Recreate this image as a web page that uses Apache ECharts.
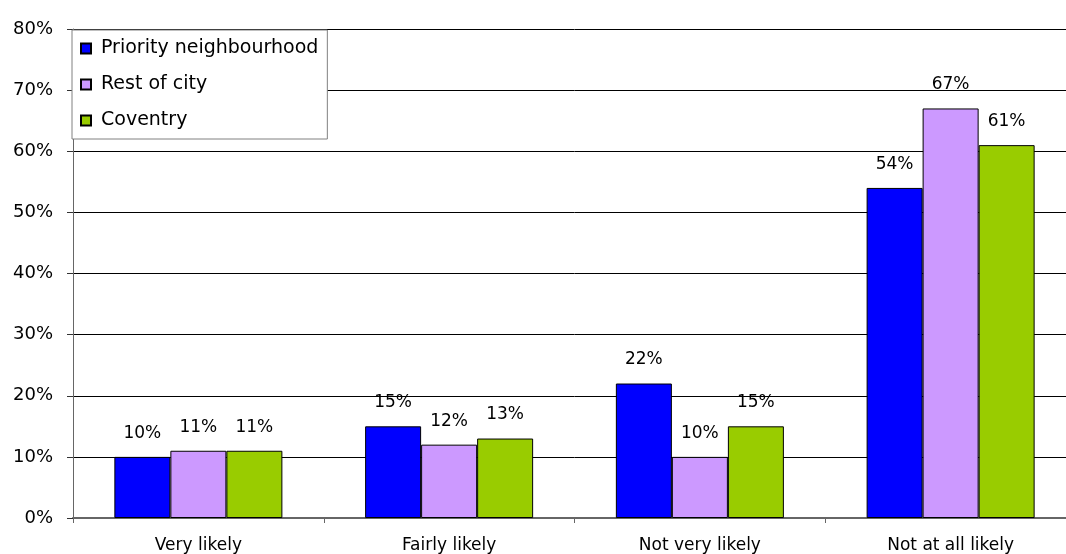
<!DOCTYPE html>
<html>
<head>
<meta charset="utf-8">
<script src="https://cdn.jsdelivr.net/npm/echarts@6/dist/echarts.min.js"></script>
<style>
html,body{margin:0;padding:0;background:#fff;overflow:hidden;width:1066px;height:554px;}
#chart{width:1076px;height:554px;}
</style>
</head>
<body>
<div id="chart"></div>
<script>
const categories = ['Very likely', 'Fairly likely', 'Not very likely', 'Not at all likely'];
const priority = [10, 15, 22, 54];
const restOfCity = [11, 12, 10, 67];
const coventry = [11, 13, 15, 61];
const seriesNames = ['Priority neighbourhood', 'Rest of city', 'Coventry'];
const colors = ['#0000FF', '#CC99FF', '#99CC00'];

const font = 'DejaVu Sans, sans-serif';
const chart = echarts.init(document.getElementById('chart'), null, {renderer: 'canvas'});
function mk(name, data, color) {
  return {
    name: name, type: 'bar', data: data, barGap: '0%', barCategoryGap: '33%',
    itemStyle: {color: color, borderColor: '#000', borderWidth: 1},
    label: {show: true, position: 'top', distance: 15, formatter: '{c}%', color: '#000', fontSize: 17, fontFamily: font},
    animation: false
  };
}
chart.setOption({
  backgroundColor: '#fff',
  animation: false,
  grid: {left: 73, top: 29, bottom: 36, right: 0},
  legend: {
    orient: 'vertical', left: 72, top: 30,
    data: seriesNames,
    icon: 'rect', itemWidth: 10, itemHeight: 10, itemGap: 17,
    padding: [9, 9, 9, 8],
    backgroundColor: '#fff', borderColor: '#808080', borderWidth: 1, borderRadius: 0,
    textStyle: {fontSize: 19, fontFamily: font, color: '#000', padding: [0, 0, 0, 5]}
  },
  xAxis: {
    type: 'category', data: categories,
    axisLine: {lineStyle: {color: '#666', width: 2}},
    axisTick: {show: true, length: 5, lineStyle: {color: '#666'}},
    axisLabel: {fontSize: 17, fontFamily: font, color: '#000', margin: 19}
  },
  yAxis: {
    type: 'value', min: 0, max: 80, interval: 10,
    axisLine: {show: true, lineStyle: {color: '#666', width: 1}},
    axisTick: {show: true, length: 6, lineStyle: {color: '#333'}},
    axisLabel: {fontSize: 18, fontFamily: font, color: '#000', margin: 20, formatter: '{value}%'},
    splitLine: {show: true, lineStyle: {color: '#000', width: 1}}
  },
  series: [mk(seriesNames[0], priority, colors[0]), mk(seriesNames[1], restOfCity, colors[1]), mk(seriesNames[2], coventry, colors[2])]
});
</script>
</body>
</html>
